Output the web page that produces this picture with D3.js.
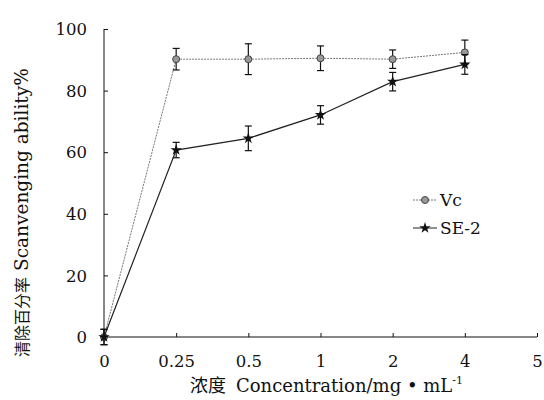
<!DOCTYPE html>
<html><head><meta charset="utf-8">
<script src="https://cdn.jsdelivr.net/npm/d3@7/dist/d3.min.js"></script>
<style>body{margin:0;background:#fff}svg{display:block}</style>
</head><body>
<svg id="c" width="544" height="400"></svg>
<script>
const categories = ["0","0.25","0.5","1","2","4","5"];
const yTicks = [0,20,40,60,80,100];
const vcValues = [0, 90.2, 90.2, 90.5, 90.2, 92.4];
const vcErr    = [2.5, 3.5, 5, 4, 3, 4];
const seValues = [0, 60.7, 64.5, 72.1, 82.9, 88.5];
const seErr    = [2.5, 2.5, 4, 3, 3, 3.2];
const seriesNames = ["Vc","SE-2"];

const svg = d3.select("#c");
const serif = "'DejaVu Serif', serif";
const ink = "#111";
const x = d3.scalePoint().domain(categories).range([104, 537]);
const y = d3.scaleLinear().domain([0,100]).range([337, 29]);

// axes
const yAxis = d3.axisLeft(y).tickValues(yTicks).tickSize(-4).tickPadding(20);
const gy = svg.append("g").attr("transform","translate(104,0)").call(yAxis);
gy.select(".domain").attr("d","M0,29V337").attr("stroke",ink);
gy.selectAll(".tick line").attr("stroke",ink);
gy.selectAll("text").attr("font-family",serif).attr("font-size",16.5).attr("fill",ink).attr("dy","0.35em").attr("x",-17);

const xAxis = d3.axisBottom(x).tickSize(-4).tickPadding(18);
const gx = svg.append("g").attr("transform","translate(0,337)").call(xAxis);
gx.select(".domain").attr("d","M104,0H537").attr("stroke",ink);
gx.selectAll(".tick line").attr("stroke",ink);
gx.selectAll("text").attr("font-family",serif).attr("font-size",16.5).attr("fill",ink);

// axis titles
svg.append("text").attr("transform","translate(28,357) rotate(-90)").attr("text-anchor","start")
  .attr("fill",ink)
  .html(`<tspan font-family="'Noto Sans CJK SC'" font-size="16">清除百分率</tspan><tspan font-family="${serif}" font-size="18.5" dx="6">Scanvenging ability%</tspan>`);
svg.append("text").attr("x",190).attr("y",392).attr("text-anchor","start")
  .attr("fill",ink)
  .html(`<tspan font-family="'Noto Sans CJK SC'" font-size="18">浓度</tspan><tspan font-family="${serif}" font-size="18" dx="10">Concentration/mg • mL</tspan><tspan font-family="${serif}" font-size="11" dy="-8">-1</tspan>`);

const cats = categories.slice(0,6);
function drawSeries(vals, errs, color, width, dash, marker){
  const g = svg.append("g");
  g.append("path").datum(vals).attr("fill","none").attr("stroke",color).attr("stroke-width",width)
    .attr("stroke-dasharray",dash)
    .attr("d", d3.line().x((d,i)=>x(cats[i])).y(d=>y(d)));
  vals.forEach((v,i)=>{
    const cx = x(cats[i]);
    g.append("line").attr("x1",cx).attr("x2",cx).attr("y1",y(v-errs[i])).attr("y2",y(v+errs[i])).attr("stroke",ink).attr("stroke-width",1.2);
    [v-errs[i], v+errs[i]].forEach(e=>g.append("line").attr("x1",cx-3.5).attr("x2",cx+3.5).attr("y1",y(e)).attr("y2",y(e)).attr("stroke",ink).attr("stroke-width",1.2));
    marker(g, cx, y(v));
  });
}
const vcMarker = (g,cx,cy)=>{ g.append("circle").attr("cx",cx).attr("cy",cy).attr("r",3.5).attr("fill","#999").attr("stroke","#444").attr("stroke-width",1);};
const seMarker = (g,cx,cy)=>{ g.append("path").attr("transform",`translate(${cx},${cy})`).attr("d",d3.symbol(d3.symbolStar,40)()).attr("fill",ink);};

drawSeries(vcValues, vcErr, "#777", 1, "2,1", vcMarker);
drawSeries(seValues, seErr, "#222", 1.2, null, seMarker);

// legend
const leg = [{n:seriesNames[0],y:200,m:vcMarker,c:"#777",d:"2,1"},{n:seriesNames[1],y:228,m:seMarker,c:"#222",d:null}];
leg.forEach(l=>{
  svg.append("line").attr("x1",413).attr("x2",437).attr("y1",l.y).attr("y2",l.y).attr("stroke",l.c).attr("stroke-dasharray",l.d);
  l.m(svg,425,l.y);
  svg.append("text").attr("x",440).attr("y",l.y).attr("dy","0.35em").attr("font-family",serif).attr("font-size",17).attr("fill",ink).text(l.n);
});
</script>
</body></html>
